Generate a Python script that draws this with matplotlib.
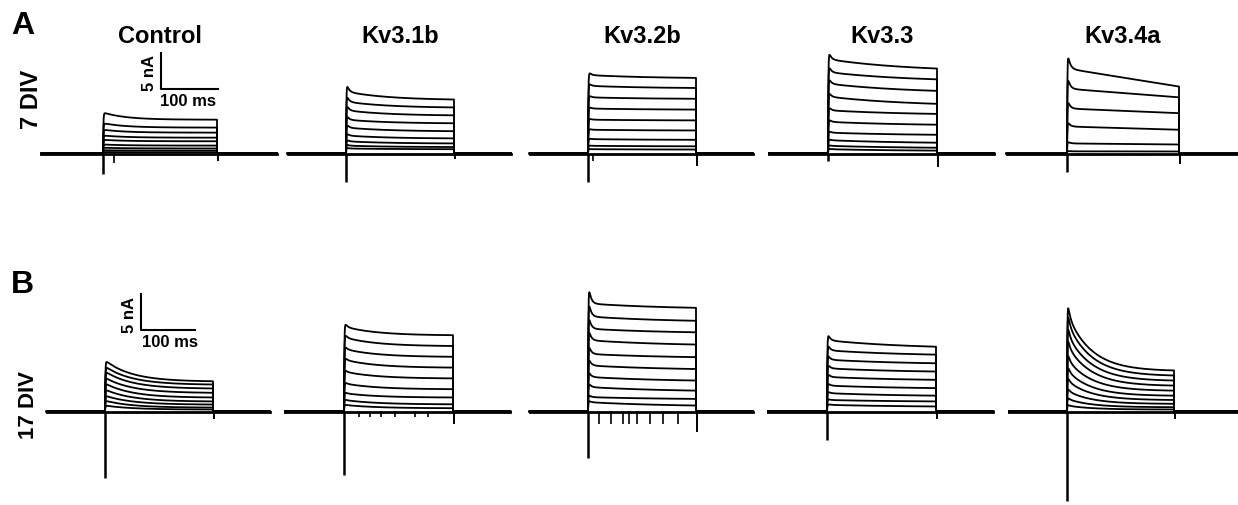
import numpy as np
import matplotlib.pyplot as plt

plt.rcParams['font.family'] = ['Liberation Sans', 'DejaVu Sans']
plt.rcParams['font.weight'] = 'bold'

W, H = 1238, 506
channels = ["Control", "Kv3.1b", "Kv3.2b", "Kv3.3", "Kv3.4a"]

# current at start / end of the 200 ms step, nA (one list per panel)
div7_start = [
    [5.7, 4.2, 3.3, 2.5, 1.9, 1.25, 0.8, 0.45, 0.2],
    [8.6, 7.2, 6.0, 4.7, 3.6, 2.5, 1.7, 1.1, 0.7],
    [10.9, 9.4, 7.8, 6.25, 4.7, 3.3, 2.0, 1.07, 0.6],
    [13.1, 11.3, 9.7, 7.9, 6.0, 4.4, 2.9, 1.85, 1.07, 0.6],
    [11.8, 9.0, 6.25, 3.75, 1.4, 0.3],
]
div7_end = [
    [4.7, 3.6, 2.9, 2.2, 1.7, 1.1, 0.7, 0.4, 0.17],
    [7.5, 6.4, 5.3, 4.2, 3.1, 2.1, 1.4, 0.9, 0.6],
    [10.5, 9.1, 7.6, 6.1, 4.6, 3.2, 1.9, 1.0, 0.55],
    [11.8, 10.3, 8.7, 6.9, 5.5, 4.0, 2.6, 1.5, 0.8, 0.4],
    [9.3, 7.8, 5.6, 3.3, 1.25, 0.28],
]
div7_fast = [0.0, 0.18, 0.06, 0.12, 0.26]
div7_tau = [40, 80, 120, 150, 10000]
div7_neg = [-2.9, -4.0, -4.0, -1.0, -2.5]
div7_off = [-1.0, -0.8, -1.75, -1.9, -1.4]

div17_start = [
    [7.1, 6.25, 5.55, 4.7, 3.9, 3.05, 2.2, 1.5, 0.83],
    [11.8, 10.3, 8.7, 7.2, 5.55, 3.9, 2.55, 1.6, 0.92],
    [15.0, 13.2, 11.5, 9.9, 8.0, 6.4, 4.8, 3.4, 2.0, 1.3],
    [9.9, 8.5, 7.2, 6.0, 4.8, 3.6, 2.55, 1.6, 0.93],
    [13.6, 12.4, 10.8, 9.2, 7.3, 5.7, 4.3, 2.9, 1.75, 0.83],
]
div17_end = [
    [4.2, 3.75, 3.2, 2.6, 1.95, 1.4, 0.97, 0.55, 0.28],
    [10.6, 9.1, 7.6, 6.1, 4.6, 3.1, 1.95, 1.0, 0.46],
    [14.4, 12.6, 11.0, 9.3, 7.55, 5.9, 4.3, 2.9, 1.75, 0.83],
    [9.0, 7.9, 6.7, 5.55, 4.4, 3.25, 2.2, 1.4, 0.7],
    [5.7, 5.0, 4.3, 3.6, 2.9, 2.2, 1.6, 1.07, 0.6, 0.28],
]
div17_fast = [0.0, 0.07, 0.23, 0.14, 0.19]
div17_tau = [50, 60, 150, 150, 45]
div17_neg = [-9.3, -8.75, -6.5, -3.9, -12.4]
div17_off = [-1.0, -1.7, -2.8, -1.1, -1.0]

# small downward artefacts on the baseline (ms, nA)
artefact_times_7 = [[20], [], [10], [], []]
artefact_depth_7 = [-1.25, 0, -1.0, 0, 0]
artefact_times_17 = [[], [28, 48, 67, 94, 130, 155],
                     [21, 42, 64, 76, 91, 115, 139, 167], [], []]
artefact_depth_17 = [0, -0.8, -1.7, 0, 0]

# layout in pixels: pulse start / end per panel, baseline row, px per nA
pulse_px_7 = [(103, 217), (346, 454), (588, 696), (828, 937), (1067, 1179)]
pulse_px_17 = [(105, 213), (344, 453), (588, 696), (827, 936), (1067, 1174)]
PX_NA = 7.2

fig = plt.figure(figsize=(W / 100, H / 100), dpi=100)


def make_ax(s, e, top, bottom, base):
    k = (e - s) / 200.0
    left = s - 125 * k
    ax = fig.add_axes([left / W, 1 - bottom / H, 460 * k / W, (bottom - top) / H])
    ax.set_xlim(-125, 335)
    ax.set_ylim((base - bottom) / PX_NA, (base - top) / PX_NA)
    ax.axis('off')
    return ax


def draw_row(pulses, starts, ends, fast, tau, neg, off, art_t, art_d, top, bottom, base):
    axes = []
    for i in range(5):
        s, e = pulses[i]
        ax = make_ax(s, e, top, bottom, base)
        post = 340 if i == 4 else 305
        t = np.linspace(0, 200, 600)
        T = 200.0
        g = (np.exp(-t / tau[i]) - np.exp(-T / tau[i])) / (1 - np.exp(-T / tau[i]))
        act = 1 - np.exp(-t / 0.6)
        for a0, a1 in zip(starts[i], ends[i]):
            cur = act * (a1 + (a0 - a1) * g + fast[i] * a0 * np.exp(-t / 4.0))
            tt = np.concatenate([[-108], [0], t, [200, post]])
            yy = np.concatenate([[0], [0], cur, [0, 0]])
            ax.plot(tt, yy, color='black', lw=1.3, clip_on=False)
        ax.plot([-108, post], [0, 0], color='black', lw=2.0, clip_on=False)
        ax.vlines(0.3, neg[i], 0, color='black', lw=1.8)
        ax.vlines(201, off[i], 0, color='black', lw=1.4)
        if art_t[i]:
            ax.vlines(art_t[i], art_d[i], 0, color='black', lw=1.2)
        axes.append(ax)
    return axes


row7 = draw_row(pulse_px_7, div7_start, div7_end, div7_fast, div7_tau, div7_neg, div7_off,
                artefact_times_7, artefact_depth_7, 30, 200, 154.5)
row17 = draw_row(pulse_px_17, div17_start, div17_end, div17_fast, div17_tau, div17_neg, div17_off,
                 artefact_times_17, artefact_depth_17, 262, 506, 412.5)

# scale bars (100 ms, 5 nA) in the control panels
for ax, (x0, y0) in [(row7[0], (101.8, 9.0)), (row17[0], (66.0, 11.3))]:
    ax.plot([x0, x0, x0 + 100], [y0 + 5, y0, y0], color='black', lw=1.5, clip_on=False)

fig.text(188 / W, 1 - 102 / H, "100 ms", fontsize=12, ha='center', va='center')
fig.text(150 / W, 1 - 73 / H, "5 nA", fontsize=12, ha='center', va='center', rotation=90)
fig.text(170 / W, 1 - 343 / H, "100 ms", fontsize=12, ha='center', va='center')
fig.text(129 / W, 1 - 315 / H, "5 nA", fontsize=12, ha='center', va='center', rotation=90)

for name, (s, e) in zip(channels, pulse_px_7):
    fig.text((s + e) / 2 / W, 1 - 43 / H, name, fontsize=17, ha='center', va='baseline')

fig.text(11 / W, 1 - 34 / H, "A", fontsize=23, ha='left', va='baseline')
fig.text(11 / W, 1 - 293 / H, "B", fontsize=23, ha='left', va='baseline')
fig.text(31 / W, 1 - 99 / H, "7 DIV", fontsize=17, ha='center', va='center', rotation=90)
fig.text(28.5 / W, 1 - 405 / H, "17 DIV", fontsize=16, ha='center', va='center', rotation=90)

fig.savefig("out.png", dpi=100, facecolor='white')
